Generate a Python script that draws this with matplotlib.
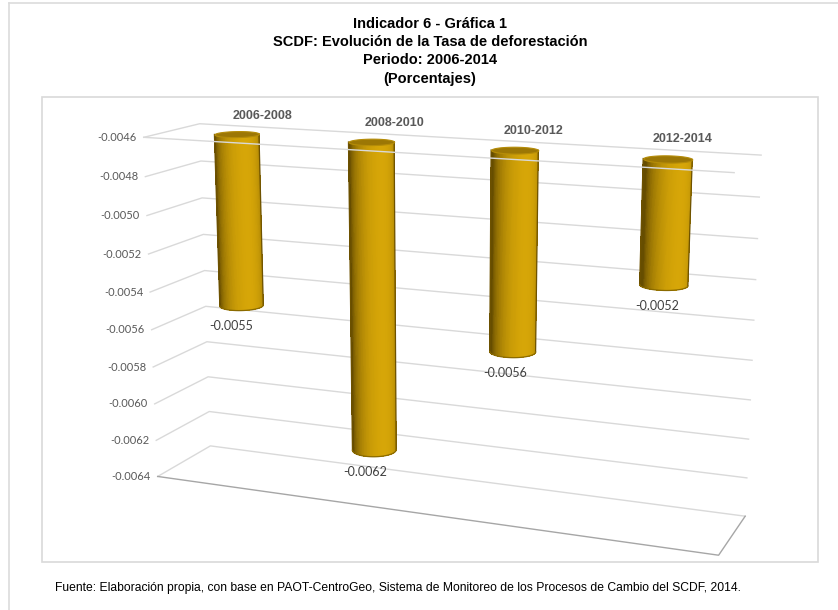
import numpy as np
import matplotlib
matplotlib.use('Agg')
import matplotlib.pyplot as plt
from matplotlib.patches import Rectangle
from matplotlib.lines import Line2D
from mpl_toolkits.mplot3d import proj3d
from mpl_toolkits.mplot3d.art3d import Poly3DCollection

# data
periodos = ['2006-2008', '2008-2010', '2010-2012', '2012-2014']
tasas = [-0.0055, -0.0062, -0.0056, -0.0052]
ticks = [-0.0064, -0.0062, -0.0060, -0.0058, -0.0056, -0.0054,
         -0.0052, -0.0050, -0.0048, -0.0046]
z_min, z_max = -0.0064, -0.0046

titulo = ('Indicador 6 - Gráfica 1\n'
          'SCDF: Evolución de la Tasa de deforestación\n'
          'Periodo: 2006-2014\n'
          '(Porcentajes)')
fuente = ('Fuente: Elaboración propia, con base en PAOT-CentroGeo, Sistema de '
          'Monitoreo de los Procesos de Cambio del SCDF, 2014.')

grid_c = '#d9d9d9'
text_c = '#595959'
depth = 0.75
radius = 0.15
y_c = depth / 2
elev, azim = 14, -68

fig = plt.figure(figsize=(8.38, 6.10), dpi=100)

# page frame and chart box
fig.add_artist(Line2D([9/838, 9/838], [0, 1 - 3/610], color='#dcdcdc', lw=1.2))
fig.add_artist(Line2D([9/838, 1], [1 - 3/610, 1 - 3/610], color='#dcdcdc', lw=1.2))
fig.add_artist(Rectangle((42/838, 1 - 562/610), 776/838, 465/610,
                         fill=False, edgecolor='#d9d9d9', lw=1.2))

fig.text(0.513, 1 - 17/610, titulo, ha='center', va='top',
         fontfamily='Liberation Sans', fontweight='bold', fontsize=10.5,
         linespacing=1.38)
fig.text(55/838, 1 - 588/610, fuente, ha='left', va='center',
         fontfamily='Liberation Sans', fontsize=8.7)

ax = fig.add_axes([0.07, 0.087, 0.9, 0.74], projection='3d',
                  computed_zorder=False)
ax.set_proj_type('persp', focal_length=0.72)
ax.view_init(elev=elev, azim=azim)
n = len(periodos)
ax.set_xlim(0, n)
ax.set_ylim(0, depth)
ax.set_zlim(z_min, z_max)
ax.set_box_aspect((n, depth, 2.39), zoom=1.53)
ax.set_axis_off()
M = ax.get_proj()


def label(x, y, z, s, dx=0, dy=0, **kw):
    px, py, _ = proj3d.proj_transform(x, y, z, M)
    ax.annotate(s, xy=(px, py), xycoords='data', xytext=(dx, dy),
                textcoords='offset points', annotation_clip=False, **kw)


# walls: gridlines on left wall and back wall
for t in ticks:
    ax.plot([0, 0, n], [0, depth, depth], [t, t, t], color=grid_c, lw=1,
            zorder=1, clip_on=False)
    label(0, 0, t, f'{t:.4f}', dx=-5, ha='right', va='center',
          fontfamily='Lato', fontsize=8, color=text_c, zorder=5)

# floor
ax.plot([n, n, 0], [depth, 0, 0], [z_min] * 3, color='#a6a6a6', lw=1,
        zorder=1, clip_on=False)

# cylinder shading
cam = np.deg2rad(azim)
dark = np.array([0.40, 0.30, 0.0])
bright = np.array([0.84, 0.65, 0.03])
edge_c = '#6e5200'


def colores(theta):
    light = np.cos(theta - (cam + np.deg2rad(25)))
    shade = np.clip(light, 0, 1) ** 0.8
    c = dark[None, :] + (bright - dark)[None, :] * shade[:, None]
    return np.concatenate([c, np.ones((len(theta), 1))], axis=1)


th_all = cam + np.linspace(-np.pi, np.pi, 721)
th_cap = np.linspace(0, 2 * np.pi, 97)

for i, v in enumerate(tasas):
    xc = i + 0.5
    # silhouette of this cylinder as seen by the camera
    px, _, _ = proj3d.proj_transform(xc + radius * np.cos(th_all),
                                     y_c + radius * np.sin(th_all),
                                     np.full_like(th_all, z_max), M)
    t_a, t_b = sorted([th_all[np.argmin(px)], th_all[np.argmax(px)]])
    th = np.linspace(t_a, t_b, 90)
    xs = xc + radius * np.cos(th)
    ys = y_c + radius * np.sin(th)
    cols = colores(th)
    Z2 = np.stack([np.full_like(xs, v), np.full_like(xs, z_max)])
    s = ax.plot_surface(np.stack([xs, xs]), np.stack([ys, ys]), Z2,
                        facecolors=np.stack([cols, cols]), shade=False,
                        linewidth=0, antialiased=False,
                        rstride=1, cstride=1, zorder=2)
    s.set_clip_on(False)
    # smooth outline: side edges and bottom arc
    ax.plot([xs[0], xs[0]], [ys[0], ys[0]], [v, z_max], color=edge_c,
            lw=0.9, zorder=2.2, clip_on=False)
    ax.plot([xs[-1], xs[-1]], [ys[-1], ys[-1]], [v, z_max], color=edge_c,
            lw=0.9, zorder=2.2, clip_on=False)
    ax.plot(xs, ys, np.full_like(xs, v), color='#8a6a00', lw=0.9,
            zorder=2.2, clip_on=False)
    cx = xc + radius * np.cos(th_cap)
    cy = y_c + radius * np.sin(th_cap)
    cap = Poly3DCollection([list(zip(cx, cy, np.full_like(cx, z_max)))],
                           facecolor='#9c7705', edgecolor='#b58c08', lw=0.8,
                           zorder=3)
    cap.set_clip_on(False)
    ax.add_collection3d(cap)
    label(xc, y_c - radius, v, f'{v:.4f}', dy=-7, ha='center', va='top',
          fontfamily='Lato', fontsize=9, color='#404040', zorder=5)
    label(xc, depth, z_max, periodos[i], dy=4, ha='center', va='bottom',
          fontfamily='Liberation Sans', fontweight='bold', fontsize=9,
          color=text_c, zorder=5)

# front edge of the top plane, drawn over the cylinders
ax.plot([0, n], [0, 0], [z_max, z_max], color=grid_c, lw=1, zorder=4,
        clip_on=False)

fig.savefig('out.png', dpi=100)
